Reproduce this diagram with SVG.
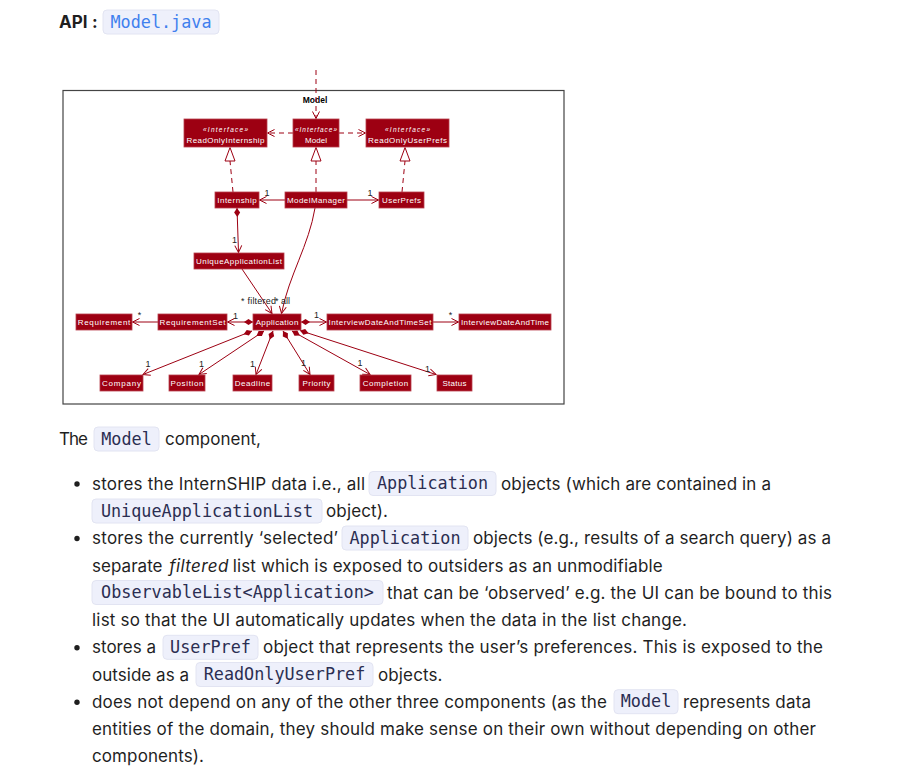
<svg xmlns="http://www.w3.org/2000/svg" width="898" height="768" viewBox="0 0 898 768">
<style>
.box{fill:#9D0012;stroke:#B8404E;stroke-width:0.8}
.bt{font-family:"Liberation Sans",Arial,sans-serif;font-size:8px;fill:#fff;text-anchor:middle}
.st{font-style:italic;font-size:6.5px}
.ln{fill:none;stroke:#9D0012;stroke-width:1}
.dsh{stroke-dasharray:5 4}
.tri{fill:#fff;stroke:#9D0012;stroke-width:1}
.lbl{font-family:"Liberation Sans",Arial,sans-serif;font-size:9px;fill:#222}
.body{font-family:Inter,"Liberation Sans",sans-serif;font-size:17px;fill:#1f1f1f}
.cbox{fill:#eef0fb;stroke:#e2e4f2;stroke-width:1}
.code{font-family:"DejaVu Sans Mono","Liberation Mono",monospace;font-size:16.8px;fill:#2b2e52;text-anchor:middle}
</style>
<defs>
<marker id="arr" viewBox="-8 -5 10 10" refX="0" refY="0" markerWidth="10" markerHeight="10" markerUnits="userSpaceOnUse" orient="auto"><path d="M-7,-3.5 L0,0 L-7,3.5" fill="none" stroke="#9D0012" stroke-width="1"/></marker>
<marker id="dia" viewBox="-1 -4 11 8" refX="0" refY="0" markerWidth="11" markerHeight="8" markerUnits="userSpaceOnUse" orient="auto"><path d="M0,0 L4.5,-3 L9,0 L4.5,3 Z" fill="#9D0012"/></marker>
</defs>
<rect width="898" height="768" fill="#fff"/>

<!-- header -->
<text class="body" x="59" y="28" font-weight="bold">API</text>
<text class="body" x="92" y="28" font-weight="bold">:</text>
<rect class="cbox" x="103" y="10" width="116" height="24" rx="4"/>
<text class="code" x="161" y="27.5" style="fill:#3f80ee">Model.java</text>

<!-- diagram frame -->
<rect x="63" y="90.5" width="501" height="313.5" fill="none" stroke="#444" stroke-width="1.2"/>
<text x="315" y="103" font-family="Liberation Sans, Arial, sans-serif" font-size="8.5" font-weight="bold" text-anchor="middle" fill="#000">Model</text>

<g id="connectors">
<path class="ln dsh" d="M316,70 L316,118.5" marker-end="url(#arr)"/>
<path class="ln dsh" d="M293,133 L267.5,133" marker-end="url(#arr)"/>
<path class="ln dsh" d="M339,133 L365.5,133" marker-end="url(#arr)"/>
<path class="ln dsh" d="M233,192 L230,161"/>
<polygon class="tri" points="230,147.5 225,161 235,161"/>
<path class="ln dsh" d="M316,192 L316,161"/>
<polygon class="tri" points="316,147.5 311,161 321,161"/>
<path class="ln dsh" d="M402,192 L405,161"/>
<polygon class="tri" points="405,147.5 400,161 410,161"/>
<path class="ln" d="M285,200 L259.5,200" marker-end="url(#arr)"/>
<path class="ln" d="M347,200 L378.5,200" marker-end="url(#arr)"/>
<path class="ln" d="M237,208 L238.5,252.5" marker-start="url(#dia)" marker-end="url(#arr)"/>
<path class="ln" d="M242,269 L272,313.5" marker-end="url(#arr)"/>
<path class="ln" d="M315,208 C309,245 289,275 281.5,313.5" marker-end="url(#arr)"/>
<path class="ln" d="M253,322 L227.5,322" marker-start="url(#dia)" marker-end="url(#arr)"/>
<path class="ln" d="M158,322 L132.5,322" marker-end="url(#arr)"/>
<path class="ln" d="M301,322 L326.5,322" marker-start="url(#dia)" marker-end="url(#arr)"/>
<path class="ln" d="M433,322 L458.5,322" marker-end="url(#arr)"/>
<path class="ln" d="M252,331 L143,374.5" marker-start="url(#dia)" marker-end="url(#arr)"/>
<path class="ln" d="M264,331 L199,374.5" marker-start="url(#dia)" marker-end="url(#arr)"/>
<path class="ln" d="M273,331 L256,374.5" marker-start="url(#dia)" marker-end="url(#arr)"/>
<path class="ln" d="M283,331 L310,374.5" marker-start="url(#dia)" marker-end="url(#arr)"/>
<path class="ln" d="M292,331 L370,374.5" marker-start="url(#dia)" marker-end="url(#arr)"/>
<path class="ln" d="M300,330.5 L436,374.5" marker-start="url(#dia)" marker-end="url(#arr)"/>
<text class="lbl" x="267" y="196" text-anchor="middle">1</text>
<text class="lbl" x="370" y="196" text-anchor="middle">1</text>
<text class="lbl" x="234.5" y="243" text-anchor="middle">1</text>
<text class="lbl" x="139.5" y="317.5" text-anchor="middle">*</text>
<text class="lbl" x="235.5" y="319" text-anchor="middle">1</text>
<text class="lbl" x="316.5" y="317.5" text-anchor="middle">1</text>
<text class="lbl" x="450.5" y="318" text-anchor="middle">*</text>
<text class="lbl" x="241" y="304" textLength="35">* filtered</text>
<text class="lbl" x="275" y="304" textLength="15">* all</text>
<text class="lbl" x="148" y="366.5" text-anchor="middle">1</text>
<text class="lbl" x="201.5" y="366.5" text-anchor="middle">1</text>
<text class="lbl" x="252.5" y="366.5" text-anchor="middle">1</text>
<text class="lbl" x="303.5" y="366" text-anchor="middle">1</text>
<text class="lbl" x="360" y="366" text-anchor="middle">1</text>
<text class="lbl" x="427.5" y="371.5" text-anchor="middle">1</text>
</g>

<g id="ReadOnlyInternship"><rect class="box" x="184" y="119" width="83" height="28"/><text class="bt st" x="225.5" y="131.5" textLength="45">«Interface»</text><text class="bt" x="225.5" y="143" textLength="78">ReadOnlyInternship</text></g>
<g id="ModelInterface"><rect class="box" x="293" y="119" width="46" height="28"/><text class="bt st" x="316" y="131.5" textLength="42">«Interface»</text><text class="bt" x="316" y="143" textLength="22">Model</text></g>
<g id="ReadOnlyUserPrefs"><rect class="box" x="366" y="119" width="83" height="28"/><text class="bt st" x="407.5" y="131.5" textLength="45">«Interface»</text><text class="bt" x="407.5" y="143" textLength="79">ReadOnlyUserPrefs</text></g>
<g id="Internship"><rect class="box" x="215" y="192" width="44" height="16"/><text class="bt" x="237" y="203" textLength="39.5">Internship</text></g>
<g id="ModelManager"><rect class="box" x="285" y="192" width="62" height="16"/><text class="bt" x="316" y="203" textLength="58">ModelManager</text></g>
<g id="UserPrefs"><rect class="box" x="379" y="192" width="45" height="16"/><text class="bt" x="401.5" y="203" textLength="39">UserPrefs</text></g>
<g id="UniqueApplicationList"><rect class="box" x="194" y="253" width="90" height="16"/><text class="bt" x="239" y="264" textLength="86">UniqueApplicationList</text></g>
<g id="Requirement"><rect class="box" x="76" y="314" width="56" height="16"/><text class="bt" x="104" y="325" textLength="52.5">Requirement</text></g>
<g id="RequirementSet"><rect class="box" x="158" y="314" width="69" height="16"/><text class="bt" x="192.5" y="325" textLength="66">RequirementSet</text></g>
<g id="Application"><rect class="box" x="253" y="314" width="48" height="16"/><text class="bt" x="277" y="325" textLength="42.7">Application</text></g>
<g id="InterviewDateAndTimeSet"><rect class="box" x="327" y="314" width="106" height="16"/><text class="bt" x="380" y="325" textLength="103">InterviewDateAndTimeSet</text></g>
<g id="InterviewDateAndTime"><rect class="box" x="459" y="314" width="92" height="16"/><text class="bt" x="505" y="325" textLength="88">InterviewDateAndTime</text></g>
<g id="Company"><rect class="box" x="100" y="375" width="43" height="16"/><text class="bt" x="121.5" y="386" textLength="39">Company</text></g>
<g id="Position"><rect class="box" x="169" y="375" width="36" height="16"/><text class="bt" x="187" y="386" textLength="33">Position</text></g>
<g id="Deadline"><rect class="box" x="233" y="375" width="39" height="16"/><text class="bt" x="252.5" y="386" textLength="35.5">Deadline</text></g>
<g id="Priority"><rect class="box" x="299" y="375" width="35" height="16"/><text class="bt" x="316.5" y="386" textLength="28">Priority</text></g>
<g id="Completion"><rect class="box" x="360" y="375" width="51" height="16"/><text class="bt" x="385.5" y="386" textLength="45.5">Completion</text></g>
<g id="Status"><rect class="box" x="437" y="375" width="35" height="16"/><text class="bt" x="454.5" y="386" textLength="24">Status</text></g>

<!-- body text -->
<text class="body" x="59" y="445" textLength="29">The</text>
<rect class="cbox" x="94" y="427" width="65" height="24" rx="4"/>
<text class="code" x="126.5" y="444.5">Model</text>
<text class="body" x="165" y="445" textLength="96">component,</text>

<circle cx="77" cy="484" r="2.7" fill="#1f1f1f"/>
<text class="body" x="92" y="489.5" textLength="273">stores the InternSHIP data i.e., all</text>
<rect class="cbox" x="369" y="471.5" width="127" height="24" rx="4"/>
<text class="code" x="432.5" y="489">Application</text>
<text class="body" x="501" y="489.5" textLength="270">objects (which are contained in a</text>

<rect class="cbox" x="92" y="499" width="230" height="24" rx="4"/>
<text class="code" x="207" y="516.5">UniqueApplicationList</text>
<text class="body" x="326" y="517" textLength="62">object).</text>

<circle cx="77" cy="538.5" r="2.7" fill="#1f1f1f"/>
<text class="body" x="92" y="544" textLength="246">stores the currently ‘selected’</text>
<rect class="cbox" x="342" y="526" width="126" height="24" rx="4"/>
<text class="code" x="405" y="543.5">Application</text>
<text class="body" x="473" y="544" textLength="358">objects (e.g., results of a search query) as a</text>

<text class="body" x="92" y="571.5" textLength="70.5">separate</text>
<text class="body" x="169.3" y="571.5" textLength="59" font-style="italic">filtered</text>
<text class="body" x="232.7" y="571.5" textLength="430">list which is exposed to outsiders as an unmodifiable</text>

<rect class="cbox" x="92" y="580.5" width="291" height="24" rx="4"/>
<text class="code" x="237.5" y="598">ObservableList&lt;Application&gt;</text>
<text class="body" x="387" y="598.5" textLength="445">that can be ‘observed’ e.g. the UI can be bound to this</text>

<text class="body" x="92" y="626" textLength="595">list so that the UI automatically updates when the data in the list change.</text>

<circle cx="77" cy="647.8" r="2.7" fill="#1f1f1f"/>
<text class="body" x="92" y="653.3" textLength="64">stores a</text>
<rect class="cbox" x="163" y="635.3" width="95" height="24" rx="4"/>
<text class="code" x="210.5" y="652.8">UserPref</text>
<text class="body" x="263" y="653.3" textLength="560">object that represents the user’s preferences. This is exposed to the</text>

<text class="body" x="92" y="680.5" textLength="97">outside as a</text>
<rect class="cbox" x="196" y="662.5" width="177" height="24" rx="4"/>
<text class="code" x="284.5" y="680">ReadOnlyUserPref</text>
<text class="body" x="378" y="680.5" textLength="64.5">objects.</text>

<circle cx="77" cy="702.2" r="2.7" fill="#1f1f1f"/>
<text class="body" x="92" y="707.7" textLength="515">does not depend on any of the other three components (as the</text>
<rect class="cbox" x="614" y="689.7" width="64" height="24" rx="4"/>
<text class="code" x="646" y="707.2">Model</text>
<text class="body" x="683" y="707.7" textLength="128">represents data</text>

<text class="body" x="92" y="735" textLength="724">entities of the domain, they should make sense on their own without depending on other</text>
<text class="body" x="92" y="762" textLength="112">components).</text>
</svg>
